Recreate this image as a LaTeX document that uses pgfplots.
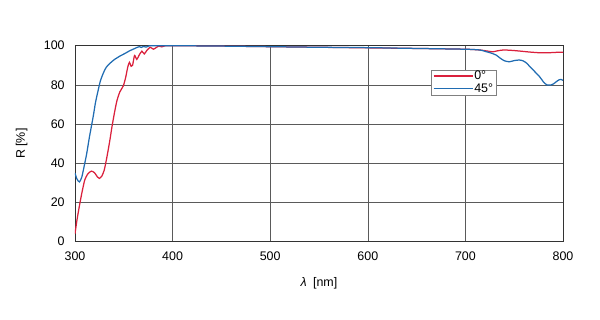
\documentclass[border=0pt]{standalone}
\usepackage{fontspec}
\setmainfont{Liberation Sans}
\usepackage{pgfplots}
\pgfplotsset{compat=1.18}
\definecolor{cred}{RGB}{218,32,60}
\definecolor{cblue}{RGB}{32,108,178}
\definecolor{gridc}{RGB}{90,90,90}
\begin{document}
\fontsize{12.5}{14}\selectfont
\begin{tikzpicture}
\begin{axis}[
  name=ax,
  scale only axis,
  width=488bp, height=196bp,
  xmin=300, xmax=800, ymin=0, ymax=100,
  xtick={300,400,...,800}, ytick={0,20,...,100},
  grid=major,
  major grid style={gridc, line width=0.6pt},
  axis line style={black!80, line width=0.8pt},
  major tick length=0pt,
  tick label style={font=\fontsize{12.5}{14}\selectfont},
  /pgf/number format/assume math mode=true,
  /pgf/number format/1000 sep={},
  xticklabel style={yshift=-6bp},
  yticklabel style={xshift=-6bp},
  xlabel={\textit{λ}\enspace[nm]},
  ylabel={R [\%]},
  xlabel style={yshift=-8bp},
  ylabel style={yshift=8bp},
  label style={font=\fontsize{12.5}{14}\selectfont},
  legend style={at={(rel axis cs:0.729,0.878)}, anchor=north west,
    draw=gray, fill=white, inner xsep=2bp, inner ysep=0bp,
    font=\fontsize{12.5}{13}\selectfont,
    nodes={inner sep=1bp}},
  legend cell align=left,
  legend image post style={xscale=2.3},
]
\addplot[color=cred, line width=1.25pt, smooth, tension=0.4] coordinates {
(300,4) (302,11) (305,19.6) (307.5,26) (310,31.5) (313,34.5) (316.7,36)
(320,35.2) (323,33) (325,32.3) (327.5,33.5) (330,36.6) (333,44) (335.8,52)
(338,59) (340.9,67) (343,72) (346,76.5) (349.5,79.5) (352,84) (354,89)
(355.8,91.5) (357.5,89.5) (359,90) (361,95) (363.3,93) (365.5,95)
(368.5,97.2) (371,95.8) (373.5,97.5) (377,99.2) (380.3,98.2) (383,99)
(386,99.8) (389,99.4) (392,99.9) (400,100) (450,99.8) (500,99.5)
(550,99.2) (600,98.9) (650,98.6) (700,98.2) (715,97.8) (722,97.3)
(728,96.9) (733,97.4) (738.7,97.8) (745,97.7) (755,97.3) (765,96.8)
(776,96.4) (785,96.4) (793,96.6) (800,96.7)
};
\addlegendentry{0\textdegree}
\addplot[color=cblue, line width=1.25pt, smooth, tension=0.4] coordinates {
(300,35) (302,32) (304.5,30.5) (307,33) (310,40) (312,45) (315,54)
(318.7,64) (321,71) (323.8,77.4) (326,82) (329,86) (332,89) (335.8,91)
(340,92.8) (346,94.7) (351,96) (356,97.4) (360,98.3) (363,99) (366,99.5)
(368,99.1) (370,99.6) (373,99.3) (376,99.9) (380,100) (390,100) (400,100)
(450,99.8) (500,99.5) (550,99.2) (600,99) (650,98.6) (700,98.2)
(715,97.8) (721,97) (726,96.3) (731.6,95.2) (736,93.5) (740,92.3)
(745,91.8) (750,92.4) (755,92.7) (759,92.3) (763,91) (766,89.3)
(771,86.8) (776,84.2) (780,81.5) (783.5,80) (788,80) (790.5,80.6)
(793,81.6) (796,82.6) (798,82.8) (800,82.3)
};
\addlegendentry{45\textdegree}
\end{axis}
\pgfresetboundingbox
\path (ax.south west) ++(-75bp,-78.3bp) rectangle ++(600bp,320bp);
\end{tikzpicture}
\end{document}
